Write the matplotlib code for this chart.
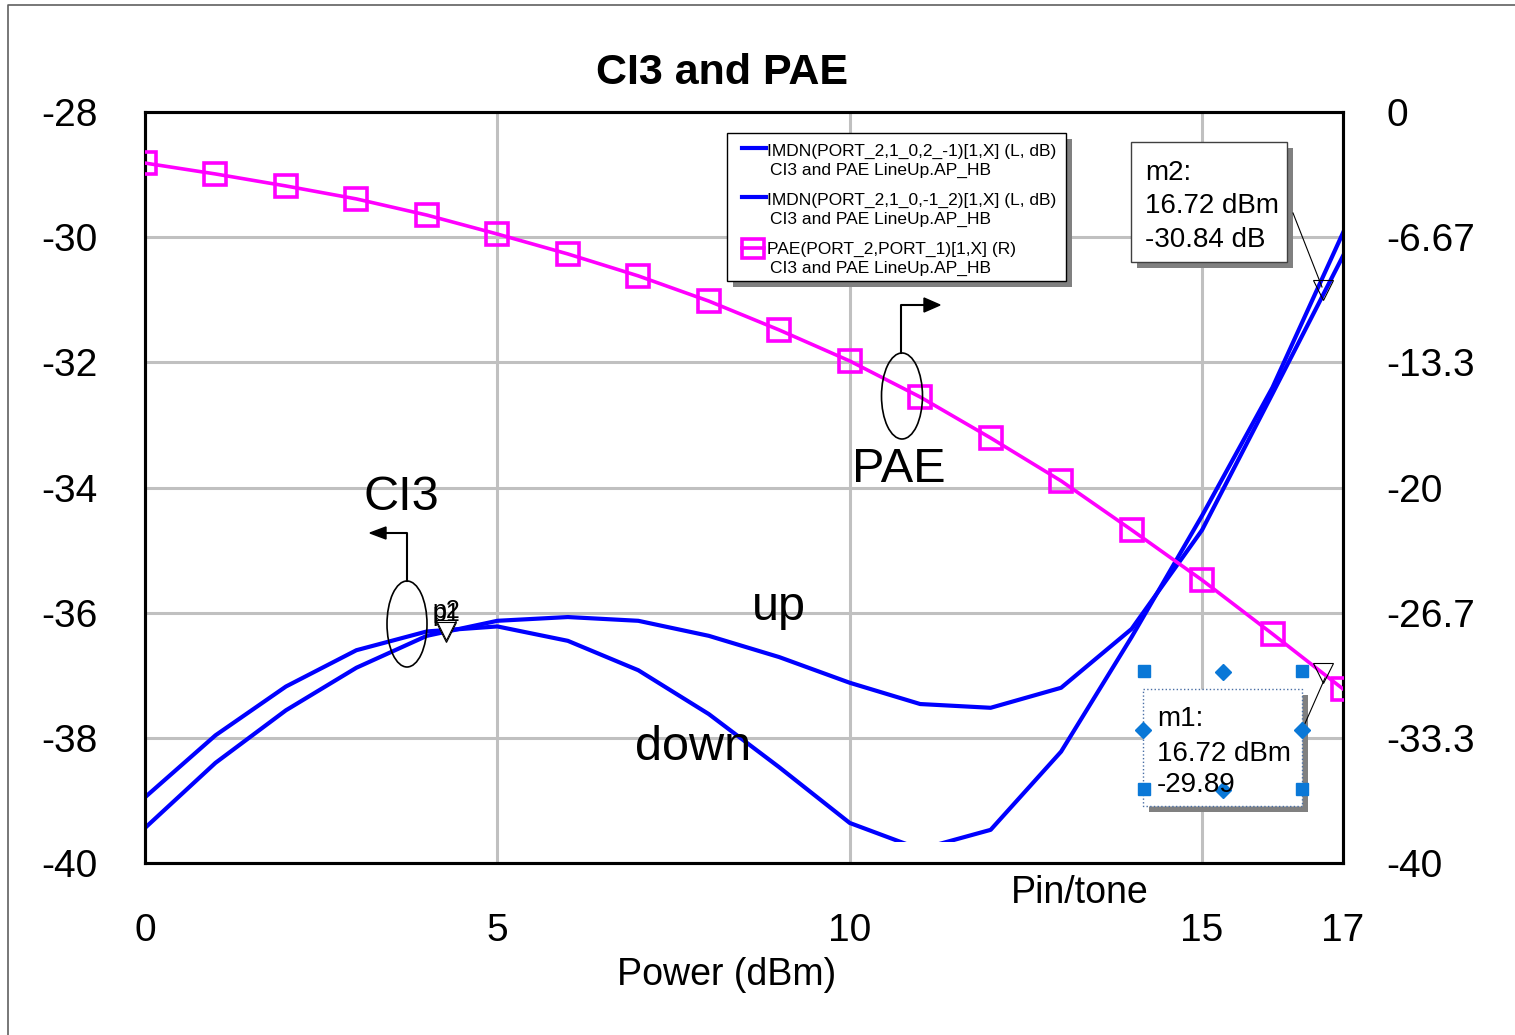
import numpy as np
import matplotlib.pyplot as plt
from matplotlib.patches import Rectangle, Ellipse, Polygon

W, H = 1515, 1035

# swept input power (dBm)
power = np.arange(0, 18)

# CI3 curves, left axis (dB)
ci3_up = [-39.44, -38.40, -37.56, -36.88, -36.37, -36.13, -36.07, -36.13, -36.37,
          -36.71, -37.12, -37.46, -37.52, -37.20, -36.26, -34.68, -32.50, -30.30]
ci3_down = [-38.95, -37.96, -37.18, -36.60, -36.30, -36.22, -36.45, -36.92, -37.62,
            -38.47, -39.36, -39.78, -39.47, -38.22, -36.39, -34.45, -32.40, -29.93]

# PAE, right axis
pae = [-2.72, -3.30, -3.94, -4.63, -5.49, -6.50, -7.56, -8.73, -10.07,
       -11.61, -13.26, -15.18, -17.36, -19.65, -22.26, -24.93, -27.80, -30.73]

x_ticks = [0, 5, 10, 15, 17]
left_ticks = [-28, -30, -32, -34, -36, -38, -40]
right_ticks = [0, -20 / 3, -40 / 3, -20, -80 / 3, -100 / 3, -40]
right_labels = ['0', '-6.67', '-13.3', '-20', '-26.7', '-33.3', '-40']

# markers
m_x = 16.72
m1_val = -29.89   # PAE
m2_val = -30.84   # CI3
p_x = 4.27

BLUE = '#0000ff'
MAG = '#ff00ff'
GRID = '#c0c0c0'
HANDLE = '#0a78d7'

plt.rcParams['font.family'] = ['Liberation Sans', 'DejaVu Sans']

fig = plt.figure(figsize=(W / 100, H / 100), dpi=100)
ax = fig.add_axes([145 / W, 1 - 863 / H, 1198 / W, 751 / H])
ax2 = ax.twinx()

# CI3 lines
ax.plot(power, ci3_up, color=BLUE, lw=3, zorder=3)
line_down, = ax.plot(power, ci3_down, color=BLUE, lw=3, zorder=3)
clip = Rectangle((0, -39.66), 17, 11.66, transform=ax.transData)
line_down.set_clip_path(clip)

# p1 / p2 markers
ax.plot([p_x], [np.interp(p_x, power, ci3_up)], 'v', ms=15, mfc='white',
        mec='black', mew=0.8, zorder=4)
ax.plot([p_x], [np.interp(p_x, power, ci3_down)], 'v', ms=15, mfc='none',
        mec='black', mew=0.8, zorder=4)
# m2 marker
ax.plot([m_x], [m2_val], 'v', ms=15, mfc='none', mec='black', mew=0.8,
        zorder=5, clip_on=False)

ax.set_xlim(0, 17)
ax.set_ylim(-40, -28)
ax.set_xticks(x_ticks)
ax.set_yticks(left_ticks)
ax.set_yticklabels([str(t) for t in left_ticks])
ax.grid(True, color=GRID, lw=2.2)
ax.set_axisbelow(True)
ax.tick_params(axis='y', length=0, pad=34, labelsize=28)
ax.tick_params(axis='x', length=0, pad=36, labelsize=28)
ax.set_xlabel('Power (dBm)', fontsize=27)
ax.xaxis.set_label_coords((727 - 145) / 1198, -(975 - 863) / 751)
ax.xaxis.label.set_va('center')

# PAE on the right axis
ax2.plot(power, pae, color=MAG, lw=2.6, marker='s', ms=16, mfc='none',
         mec=MAG, mew=2.6, zorder=3)
ax2.plot([m_x], [m1_val], 'v', ms=15, mfc='none', mec='black', mew=0.8,
         zorder=5, clip_on=False)
ax2.set_ylim(-40, 0)
ax2.set_yticks(right_ticks)
ax2.set_yticklabels(right_labels)
ax2.tick_params(axis='y', length=0, pad=31, labelsize=28)

for a in (ax, ax2):
    for s in a.spines.values():
        s.set_linewidth(2.2)
        s.set_color('black')

# overlay in pixel coordinates for annotations
ov = fig.add_axes([0, 0, 1, 1])
ov.set_xlim(0, W)
ov.set_ylim(H, 0)
ov.axis('off')

# outer frame
ov.plot([8, 8, 1515], [1035, 5, 5], color='#606060', lw=1.2)

ov.text(722, 73, 'CI3 and PAE', fontsize=31, fontweight='bold', ha='center', va='center')

# in-plot labels
ov.text(401, 498, 'CI3', fontsize=35, ha='center', va='center')
ov.text(899, 470, 'PAE', fontsize=35, ha='center', va='center')
ov.text(779, 608, 'up', fontsize=35, ha='center', va='center')
ov.text(693, 748, 'down', fontsize=35, ha='center', va='center')
ov.text(1080, 893, 'Pin/tone', fontsize=27, ha='center', va='center')
ov.text(432, 611, 'p2', fontsize=18, ha='left', va='center')
ov.text(432, 614, 'p1', fontsize=18, ha='left', va='center')

# CI3 ellipse + arrow to the left axis
ov.add_patch(Ellipse((407, 624), 40, 86, fill=False, ec='black', lw=1.2))
ov.plot([407, 407, 385], [581, 533, 533], color='black', lw=1.5)
ov.add_patch(Polygon([[370, 533], [386, 527], [386, 539]], closed=True, fc='black', ec='black'))

# PAE ellipse + arrow to the right axis
ov.add_patch(Ellipse((902, 396), 41, 86, fill=False, ec='black', lw=1.2))
ov.plot([901, 901, 924], [353, 305, 305], color='black', lw=1.5)
ov.add_patch(Polygon([[940, 305], [924, 298], [924, 312]], closed=True, fc='black', ec='black'))

# legend box
ov.add_patch(Rectangle((733, 139), 339, 148, fc='#808080', ec='none'))
ov.add_patch(Rectangle((727, 133), 339, 148, fc='white', ec='black', lw=1))
legend_rows = [
    ('IMDN(PORT_2,1_0,2_-1)[1,X] (L, dB)', 151),
    ('IMDN(PORT_2,1_0,-1_2)[1,X] (L, dB)', 200),
    ('PAE(PORT_2,PORT_1)[1,X] (R)', 249),
]
for label, yc in legend_rows:
    ov.text(767, yc, label, fontsize=12.5, ha='left', va='center')
    ov.text(770, yc + 19, 'CI3 and PAE LineUp.AP_HB', fontsize=12.5, ha='left', va='center')
ov.plot([742, 766], [148, 148], color=BLUE, lw=3)
ov.plot([742, 766], [197, 197], color=BLUE, lw=3)
ov.plot([742, 764], [248, 248], color=MAG, lw=2.6)
ov.add_patch(Rectangle((742, 239), 22, 19, fill=False, ec=MAG, lw=2.6))

# m2 readout
ov.add_patch(Rectangle((1137, 148), 156, 120, fc='#808080', ec='none'))
ov.add_patch(Rectangle((1131, 142), 156, 120, fc='white', ec='#404040', lw=1))
for txt, yc in [('m2:', 173), ('16.72 dBm', 206), ('-30.84 dB', 240)]:
    ov.text(1145, yc, txt, fontsize=20, ha='left', va='center')
ov.plot([1293, 1322], [213, 287], color='black', lw=0.8)

# m1 readout (selected)
ov.add_patch(Rectangle((1149, 695), 159, 117, fc='#808080', ec='none'))
ov.add_patch(Rectangle((1143, 689), 159, 117, fc='white', ec='#4a6fa5', lw=1, ls=':'))
for txt, yc in [('m1:', 719), ('16.72 dBm', 754), ('-29.89', 785)]:
    ov.text(1157, yc, txt, fontsize=20, ha='left', va='center')
ov.plot([1303, 1325], [728, 678], color='black', lw=0.8)
for hx, hy in [(1144, 671), (1302, 671), (1144, 789), (1302, 789)]:
    ov.plot(hx, hy, 's', ms=8.5, color=HANDLE)
for hx, hy in [(1223, 672), (1143, 730), (1302, 730), (1223, 790)]:
    ov.plot(hx, hy, 'D', ms=8, color=HANDLE)

fig.savefig('out.png', dpi=100)
